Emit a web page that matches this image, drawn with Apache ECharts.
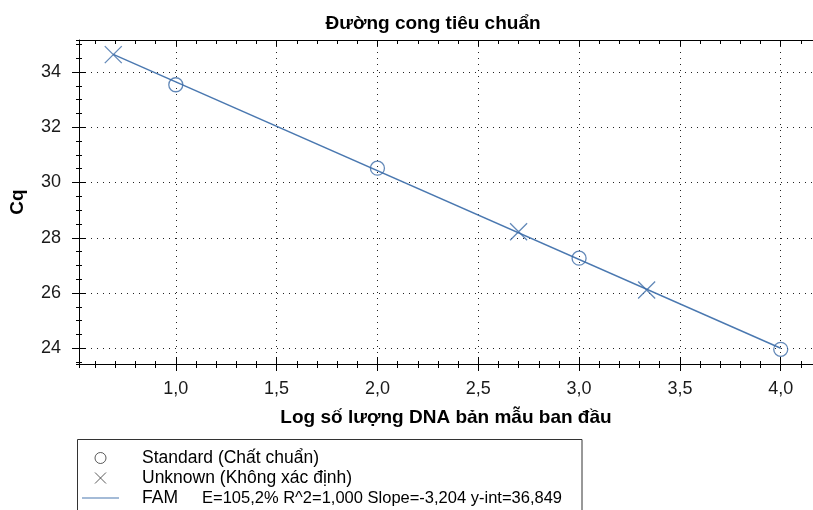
<!DOCTYPE html>
<html>
<head>
<meta charset="utf-8">
<script src="https://cdn.jsdelivr.net/npm/echarts@6/dist/echarts.min.js"></script>
<style>
html,body{margin:0;padding:0;background:#fff;}
#chart{width:813px;height:510px;}
</style>
</head>
<body>
<div id="chart"></div>
<script>
// ---- data ----
const titleText = 'Đường cong tiêu chuẩn';
const xName = 'Log số lượng DNA bản mẫu ban đầu';
const yName = 'Cq';
const stdX = [1.0, 2.0, 3.0, 4.0];
const stdY = [33.54, 30.52, 27.26, 23.96];
const unkX = [0.69, 2.70, 3.335];
const unkY = [34.63, 28.22, 26.11];
const fitX = [0.69, 4.0];
const fitY = [34.64, 24.0];
const legendStd = 'Standard (Chất chuẩn)';
const legendUnk = 'Unknown (Không xác định)';
const legendFam = 'FAM';
const famStats = 'E=105,2% R^2=1,000 Slope=-3,204 y-int=36,849';

const xMin = 0.52, xMax = 4.16;
const yMin = 23.43, yMax = 35.16;

const markerColor = '#3b6aa6';
const lineColor = '#4a78b0';
const font = 'Arial, "Liberation Sans", sans-serif';

function zip(a, b) { return a.map((v, i) => [v, b[i]]); }
const crossPath = 'path://M0,0L10,10M10,0L0,10';

function xAx(opts) {
  return Object.assign({
    type: 'value', min: xMin, max: xMax, position: 'bottom',
    axisLine: { show: false, onZero: false },
    axisTick: { show: false },
    axisLabel: { show: false },
    splitLine: { show: false }
  }, opts);
}
function yAx(opts) {
  return Object.assign({
    type: 'value', min: yMin, max: yMax, position: 'left',
    axisLine: { show: false, onZero: false },
    axisTick: { show: false },
    axisLabel: { show: false },
    splitLine: { show: false }
  }, opts);
}
const blackTick = (len, inside) => ({ show: true, inside: inside, length: len, lineStyle: { color: '#000', width: 1 } });
const dotted = { show: true, lineStyle: { color: '#222', width: 1, type: [1, 5] } };

const chart = echarts.init(document.getElementById('chart'));
chart.setOption({
  animation: false,
  backgroundColor: '#fff',
  title: {
    text: titleText, left: 428, top: 9, textAlign: 'center',
    textStyle: { fontFamily: font, fontSize: 19, fontWeight: 'bold', color: '#000' }
  },
  grid: { left: 79, right: 0, top: 40, bottom: 146, containLabel: false },
  xAxis: [
    xAx({
      minInterval: 0.5, maxInterval: 0.5, splitNumber: 7,
      axisLine: { show: true, onZero: false, lineStyle: { color: '#000', width: 1 } },
      axisTick: blackTick(7, false),
      axisLabel: {
        show: true, margin: 16, fontSize: 18, fontFamily: font, color: '#1a1a1a',
        showMinLabel: false, showMaxLabel: false,
        formatter: v => v.toFixed(1).replace('.', ',')
      },
      splitLine: dotted,
      name: xName, nameLocation: 'middle', nameGap: 44,
      nameTextStyle: { fontFamily: font, fontSize: 19, fontWeight: 'bold', color: '#000' }
    }),
    xAx({ minInterval: 0.5, maxInterval: 0.5, splitNumber: 7, axisTick: blackTick(7, true) }),
    xAx({ minInterval: 0.1, maxInterval: 0.1, splitNumber: 36, axisTick: blackTick(4, false) }),
    xAx({ minInterval: 0.1, maxInterval: 0.1, splitNumber: 36, axisTick: blackTick(3, true) }),
    xAx({
      position: 'top', minInterval: 0.5, maxInterval: 0.5, splitNumber: 7,
      axisLine: { show: true, onZero: false, lineStyle: { color: '#000', width: 1 } },
      axisTick: blackTick(6, true)
    }),
    xAx({ position: 'top', minInterval: 0.1, maxInterval: 0.1, splitNumber: 36, axisTick: blackTick(4, true) })
  ],
  yAxis: [
    yAx({
      minInterval: 2, maxInterval: 2, splitNumber: 6,
      axisLine: { show: true, onZero: false, lineStyle: { color: '#000', width: 1 } },
      axisTick: blackTick(7, false),
      axisLabel: {
        show: true, margin: 18, fontSize: 18, fontFamily: font, color: '#1a1a1a',
        showMinLabel: false, showMaxLabel: false
      },
      splitLine: dotted,
      name: yName, nameLocation: 'middle', nameGap: 52,
      nameTextStyle: { fontFamily: font, fontSize: 19, fontWeight: 'bold', color: '#000' }
    }),
    yAx({ minInterval: 2, maxInterval: 2, splitNumber: 6, axisTick: blackTick(7, true) }),
    yAx({ minInterval: 0.5, maxInterval: 0.5, splitNumber: 24, axisTick: blackTick(3, false) }),
    yAx({ minInterval: 0.5, maxInterval: 0.5, splitNumber: 24, axisTick: blackTick(3, true) })
  ],
  legend: {
    orient: 'vertical', left: 82, top: 448, padding: 0,
    itemWidth: 37, itemHeight: 11, itemGap: 0,
    selectedMode: false,
    textStyle: {
      fontFamily: font, fontSize: 17.5, color: '#000', lineHeight: 20,
      padding: [0, 0, 0, 18],
      rich: {
        a: { fontFamily: font, fontSize: 17.5, color: '#000', width: 60, lineHeight: 20 },
        b: { fontFamily: font, fontSize: 16.5, color: '#000', lineHeight: 20 }
      }
    },
    formatter: name => name === legendFam ? '{a|' + legendFam + '}{b|' + famStats + '}' : name,
    data: [
      { name: legendStd, icon: 'circle', itemStyle: { color: 'transparent', borderColor: '#333', borderWidth: 1 } },
      { name: legendUnk, icon: crossPath, itemStyle: { color: 'transparent', borderColor: '#333', borderWidth: 1 } },
      { name: legendFam, icon: 'path://M0,0h37v1h-37z', itemStyle: { color: lineColor, borderWidth: 0 } }
    ]
  },
  graphic: [
    {
      type: 'rect', z: 0, silent: true,
      shape: { x: 77.5, y: 439.5, width: 504.5, height: 90 },
      style: { fill: 'none', stroke: '#333', lineWidth: 1 }
    }
  ],
  series: [
    {
      name: legendFam, type: 'line', data: zip(fitX, fitY),
      xAxisIndex: 0, yAxisIndex: 0,
      showSymbol: false, symbol: 'none',
      lineStyle: { color: lineColor, width: 1.4 },
      itemStyle: { color: lineColor }, z: 2
    },
    {
      name: legendStd, type: 'scatter', data: zip(stdX, stdY),
      xAxisIndex: 0, yAxisIndex: 0,
      symbol: 'circle', symbolSize: 14,
      itemStyle: { color: 'transparent', borderColor: markerColor, borderWidth: 1.3 }, z: 3
    },
    {
      name: legendUnk, type: 'scatter', data: zip(unkX, unkY),
      xAxisIndex: 0, yAxisIndex: 0,
      symbol: crossPath, symbolSize: 17,
      itemStyle: { color: 'transparent', borderColor: markerColor, borderWidth: 1.3 }, z: 3
    }
  ]
});
</script>
</body>
</html>
